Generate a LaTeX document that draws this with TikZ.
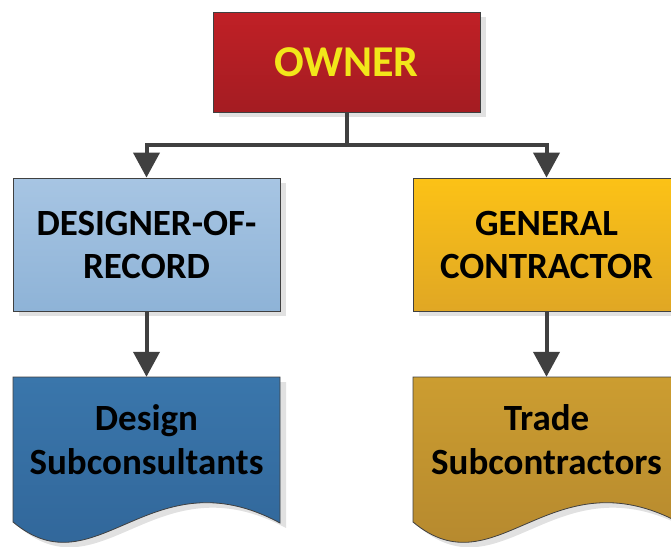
\documentclass[tikz,border=0pt]{standalone}
\usepackage{fontspec}
\setmainfont{Carlito}
\usetikzlibrary{arrows.meta,shadows}

\definecolor{linegray}{RGB}{64,64,64}
\definecolor{shadowgray}{RGB}{225,225,225}
\definecolor{ownertop}{RGB}{192,32,38}
\definecolor{ownerbot}{RGB}{164,28,34}
\definecolor{ownertext}{RGB}{242,230,26}
\definecolor{dortop}{RGB}{167,197,227}
\definecolor{dorbot}{RGB}{142,179,215}
\definecolor{gctop}{RGB}{252,194,22}
\definecolor{gcbot}{RGB}{224,167,36}
\definecolor{dstop}{RGB}{58,118,171}
\definecolor{dsbot}{RGB}{47,99,150}
\definecolor{tstop}{RGB}{204,157,48}
\definecolor{tsbot}{RGB}{176,132,46}

\tikzset{
  shade box/.style={drop shadow={shadow xshift=6pt,shadow yshift=-5pt,fill=shadowgray,opacity=1}},
  box/.style={draw=linegray, line width=0.8pt, shade box, minimum width=267pt,
    minimum height=133pt, align=center, font=\bfseries\fontsize{37}{43}\selectfont},
  doc/.style={draw=linegray, line width=0.8pt, shade box},
  doctext/.style={minimum width=267pt, minimum height=126pt, align=center,
    font=\bfseries\fontsize{37}{44}\selectfont},
  link/.style={draw=linegray, line width=4pt, -{Triangle[width=26pt,length=25pt]}},
}

\begin{document}
\begin{tikzpicture}[x=1pt,y=1pt]
    \useasboundingbox (0,0) rectangle (671,-546);

    % top level
    \node[box, minimum height=100pt, top color=ownertop, bottom color=ownerbot,
          text=ownertext, font=\bfseries\fontsize{44}{50}\selectfont]
          (owner) at (346.5,-62) {OWNER};

    % second level
    \node[box, top color=dortop, bottom color=dorbot] (dor) at (146.5,-244.5) {DESIGNER-OF-\\RECORD};
    \node[box, top color=gctop, bottom color=gcbot] (gc) at (546.5,-244.5) {GENERAL\\CONTRACTOR};

    % document shapes
    \path[doc, top color=dstop, bottom color=dsbot]
        (13,-377) -- (280,-377) -- (280,-523)
        .. controls (150.5,-453) and (96.6,-592) .. (13,-522) -- cycle;
    \path[doc, top color=tstop, bottom color=tsbot]
        (413,-377) -- (680,-377) -- (680,-523)
        .. controls (550.5,-453) and (496.6,-592) .. (413,-522) -- cycle;

    \node[doctext] (ds) at (146.5,-440) {Design\\Subconsultants};
    \node[doctext] (ts) at (546.5,-440) {Trade\\Subcontractors};

    % connectors
    \coordinate (fork) at (346.5,-145);
    \draw[link] (owner.south) -- (fork) -| (dor.north);
    \draw[link] (owner.south) -- (fork) -| (gc.north);
    \draw[link] (dor.south) -- (ds.north);
    \draw[link] (gc.south) -- (ts.north);
\end{tikzpicture}
\end{document}
